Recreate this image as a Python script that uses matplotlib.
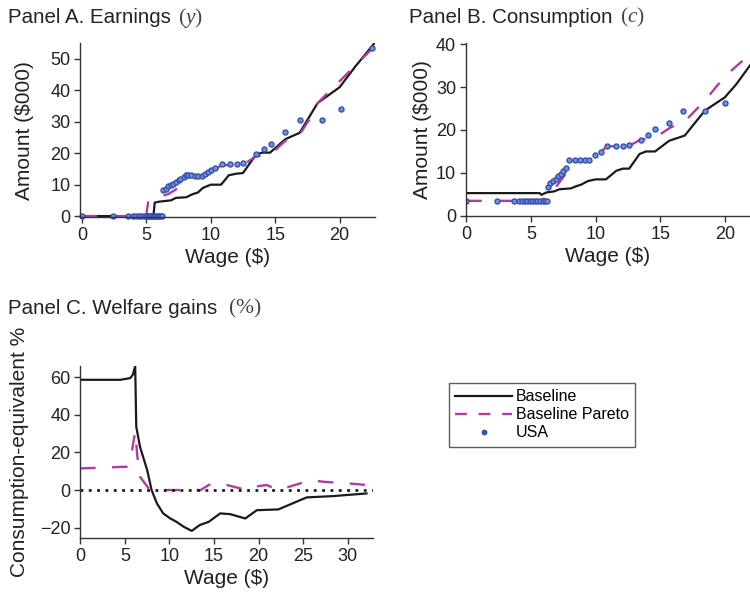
import numpy as np
import matplotlib.pyplot as plt

plt.rcParams['font.family'] = ['Liberation Sans', 'DejaVu Sans']
plt.rcParams['mathtext.fontset'] = 'custom'
plt.rcParams['mathtext.rm'] = 'Liberation Serif'
plt.rcParams['mathtext.it'] = 'Liberation Serif:italic'

BLACK = '#1a1a1a'
MAGENTA = '#b03c9e'
BLUE = '#3451b2'

# Panel A: earnings
a_base_w = [0, 5.55, 5.65, 6.0, 6.9, 7.3, 8.1, 8.6, 9.0, 9.4, 10.0, 10.8, 11.4, 12.0, 12.5,
            13.5, 14.0, 14.6, 15.8, 16.9, 18.3, 20.0, 21.2, 22.7]
a_base_y = [0, 0, 4.3, 4.6, 5.0, 5.8, 6.0, 7.0, 7.5, 9.0, 10.0, 10.0, 13.0, 13.5, 13.7,
            19.5, 20.2, 20.2, 24.5, 26.5, 36.0, 41.0, 47.5, 55.0]
a_par_w = [0, 5.0, 5.05, 5.15, 5.4, 6.3, 6.7, 7.7, 8.0, 8.5, 9.5, 10.0, 10.8, 12.5,
           13.5, 14.6, 15.8, 16.9, 17.7, 18.3, 19.9, 22.7]
a_par_y = [0, 0, 2.0, 4.5, 5.5, 6.5, 7.0, 9.5, 12.0, 12.5, 12.5, 13.5, 16.2, 16.3,
           19.0, 19.5, 24.0, 26.0, 31.0, 36.0, 42.5, 54.0]
a_usa_w = [0, 2.4, 3.6, 4.0, 4.2, 4.4, 4.6, 4.8, 5.0, 5.1, 5.2, 5.3, 5.4, 5.5, 5.6, 5.7,
           5.8, 5.9, 6.0, 6.1, 6.2, 6.33, 6.5, 6.7, 6.9, 7.1, 7.3, 7.5, 7.65, 7.9, 8.1,
           8.25, 8.5, 8.75, 9.0, 9.3, 9.55, 9.75, 10.0, 10.35, 10.85, 11.5, 12.0, 12.5,
           13.55, 14.1, 14.65, 15.8, 16.9, 18.6, 20.1, 22.5]
a_usa_y = [0] * 21 + [8.2, 8.7, 9.5, 9.9, 10.3, 10.9, 11.4, 11.9, 12.5, 13.0,
                      13.0, 13.0, 12.9, 12.9, 12.9, 13.3, 13.9, 14.6, 15.3, 16.6, 16.6, 16.6, 16.9,
                      19.7, 21.5, 23.1, 26.8, 30.6, 30.6, 34.2, 53.4]

# Panel B: consumption
b_base_w = [0, 5.67, 5.8, 6.2, 6.8, 7.2, 8.1, 8.5, 8.9, 9.4, 10.0, 10.8, 11.6, 12.1, 12.6,
            13.4, 13.9, 14.6, 15.7, 16.9, 18.45, 20.0, 20.9, 22.3]
b_base_y = [5.3, 5.3, 4.9, 5.45, 5.7, 6.2, 6.4, 6.9, 7.3, 8.1, 8.5, 8.5, 10.5, 11.0, 11.0,
            14.4, 15.0, 15.0, 17.5, 18.7, 24.5, 27.6, 30.7, 36.5]
b_par_w = [0, 5.7, 6.3, 6.7, 7.2, 7.85, 8.1, 9.4, 10.0, 10.9, 12.6, 13.5, 14.6, 15.8,
           16.9, 18.5, 20.0, 21.4, 22.3]
b_par_y = [3.5, 3.5, 4.5, 5.8, 7.8, 10.5, 12.8, 12.8, 14.0, 16.2, 16.3, 17.8, 18.2, 20.6,
           22.0, 27.0, 32.5, 36.2, 38.2]
b_usa_w = [0, 2.4, 3.7, 4.1, 4.3, 4.5, 4.7, 4.9, 5.1, 5.3, 5.5, 5.7, 5.9, 6.1, 6.25,
           6.32, 6.5, 6.7, 6.9, 7.1, 7.3, 7.5, 7.7, 7.95, 8.4, 8.8, 9.15, 9.5, 9.98, 10.4,
           10.9, 11.6, 12.1, 12.6, 13.5, 14.05, 14.6, 15.7, 16.8, 18.5, 20.05]
b_usa_y = [3.5] * 15 + [6.8, 7.6, 8.2, 8.7, 9.3, 9.8, 10.4, 11.2, 12.9, 12.9, 12.9, 12.9,
                        13.1, 14.2, 14.9, 16.2, 16.2, 16.2, 16.5, 17.7, 18.9, 20.2, 21.6,
                        24.4, 24.4, 26.2]

# Panel C: welfare gains
c_base_w = [0, 4.5, 5.6, 5.9, 6.16, 6.28, 6.7, 7.5, 8.0, 8.6, 9.3, 10.1, 10.8, 11.6, 12.5,
            13.4, 14.4, 15.7, 16.8, 18.5, 19.8, 22.2, 25.4, 28.4, 32.1]
c_base_y = [58.6, 58.6, 59.5, 61.3, 66.0, 33.7, 23.0, 10.7, 0.0, -7.1, -12.4, -15.1, -16.9,
            -19.5, -21.7, -18.6, -16.9, -12.4, -12.8, -15.1, -10.7, -10.3, -3.9, -3.2, -1.8]
c_par_w = [0, 5.2, 5.7, 6.16, 6.4, 6.7, 7.8, 13.5, 14.4, 15.5, 17.0, 18.7, 19.6, 20.9, 22.2,
           24.7, 25.8, 27.3, 29.9, 32.1]
c_par_y = [11.5, 12.4, 18.0, 31.0, 18.0, 7.1, 0.0, 0.0, 2.7, 3.9, 2.0, 0.0, 1.8, 2.7, 0.0,
           3.6, 5.3, 4.4, 3.6, 2.7]

fig = plt.figure(figsize=(7.5, 5.93), dpi=100)
axA = fig.add_axes([0.107, 0.634, 0.393, 0.293])
axB = fig.add_axes([0.621, 0.636, 0.379, 0.291])
axC = fig.add_axes([0.107, 0.093, 0.390, 0.290])

dash = (6.5, 7)
for ax in (axA, axB, axC):
    for s in ('top', 'right'):
        ax.spines[s].set_visible(False)
    for s in ('left', 'bottom'):
        ax.spines[s].set_color('#333333')
        ax.spines[s].set_linewidth(1.0)
    ax.tick_params(direction='out', length=4, width=1.0, color='#333333',
                   labelsize=13, labelcolor='#222222', pad=3)
    ax.set_xlabel('Wage ($)', fontsize=15, color='#222222', labelpad=3)

# Panel A
axA.plot(a_base_w, a_base_y, color=BLACK, lw=1.6, label='Baseline')
axA.plot(a_par_w, a_par_y, color=MAGENTA, lw=1.7, dashes=dash, label='Baseline Pareto')
axA.plot(a_usa_w, a_usa_y, 'o', ms=3.6, mfc='#7890d0', mec=BLUE, mew=1.0,
         clip_on=False, label='USA')
axA.set_xlim(-0.13, 22.75)
axA.set_ylim(-0.3, 55)
axA.set_xticks([0, 5, 10, 15, 20])
axA.set_yticks([0, 10, 20, 30, 40, 50])
axA.set_ylabel('Amount ($000)', fontsize=15, color='#222222', labelpad=12)

# Panel B
axB.plot(b_base_w, b_base_y, color=BLACK, lw=1.6)
axB.plot(b_par_w, b_par_y, color=MAGENTA, lw=1.7, dashes=dash)
axB.plot(b_usa_w, b_usa_y, 'o', ms=3.6, mfc='#7890d0', mec=BLUE, mew=1.0)
axB.set_xlim(-0.05, 21.95)
axB.set_ylim(0, 40.2)
axB.set_xticks([0, 5, 10, 15, 20])
axB.set_yticks([0, 10, 20, 30, 40])
axB.set_ylabel('Amount ($000)', fontsize=15, color='#222222', labelpad=3)

# Panel C
axC.plot(c_base_w, c_base_y, color=BLACK, lw=1.6)
axC.plot(c_par_w, c_par_y, color=MAGENTA, lw=1.7, dashes=dash)
axC.plot([0, 32.8], [0, 0], color=BLACK, lw=2.0, linestyle=(0, (1, 2)))
axC.set_xlim(0, 32.8)
axC.set_ylim(-25.4, 66)
axC.set_xticks([0, 5, 10, 15, 20, 25, 30])
axC.set_yticks([-20, 0, 20, 40, 60])
axC.set_ylabel('Consumption-equivalent %', fontsize=15, color='#222222', labelpad=8)

# panel titles: sans-serif text followed by a serif symbol
tkw = dict(fontsize=14.8, va='center', color='#222222')
skw = dict(fontsize=15.5, va='center', color='#444444')
fig.text(0.011, 0.971, 'Panel A. Earnings', **tkw)
fig.text(0.238, 0.970, r'$(y)$', **skw)
fig.text(0.545, 0.971, 'Panel B. Consumption', **tkw)
fig.text(0.827, 0.970, r'$(c)$', **skw)
fig.text(0.011, 0.480, 'Panel C. Welfare gains', **tkw)
fig.text(0.304, 0.479, r'$(\%)$', **skw)

h, l = axA.get_legend_handles_labels()
leg = fig.legend(h, l, loc='upper left', bbox_to_anchor=(0.598, 0.354), fontsize=11.5,
                 frameon=True, fancybox=False, handlelength=3.6, borderpad=0.4,
                 labelspacing=0.18, handletextpad=0.2, borderaxespad=0)
leg.get_frame().set_edgecolor('#333333')
leg.get_frame().set_linewidth(1.0)
leg.legend_handles[1].set_dashes((5, 5))
leg.legend_handles[2].set_markersize(3.2)
leg.legend_handles[2].set_markerfacecolor(BLUE)

fig.savefig('out.png', dpi=100)
